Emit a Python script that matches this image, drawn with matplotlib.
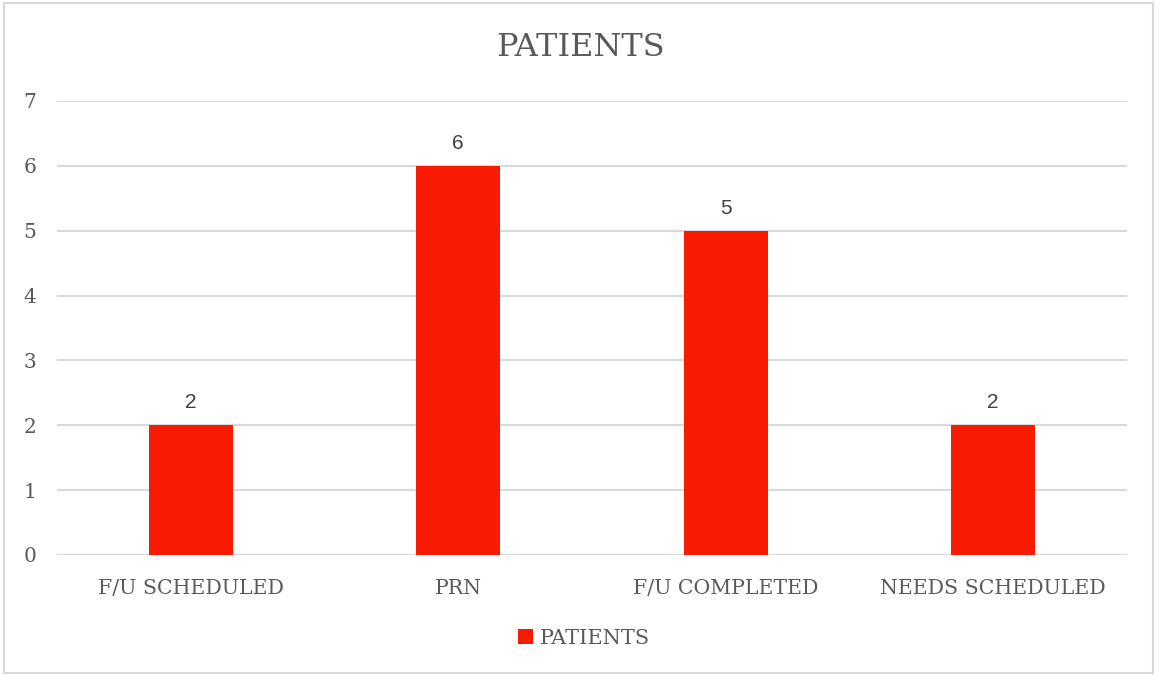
import matplotlib
matplotlib.use("Agg")
import matplotlib.pyplot as plt
from matplotlib.patches import Rectangle

categories = ["F/U SCHEDULED", "PRN", "F/U COMPLETED", "NEEDS SCHEDULED"]
patients = [2, 6, 5, 2]
yticks = [0, 1, 2, 3, 4, 5, 6, 7]

RED = "#F91A02"
TXT = "#595959"
GRID = "#D9D9D9"
SERIF = ["DejaVu Serif"]

fig = plt.figure(figsize=(11.56, 6.75), dpi=100)
ax = fig.add_axes([57 / 1156, 1 - 555 / 675, 1070 / 1156, 454 / 675])

x = list(range(len(categories)))
bars = ax.bar(x, patients, width=0.314, color=RED, zorder=3, label="PATIENTS")
for xi, v in zip(x, patients):
    ax.text(xi, v + 0.2, str(v), ha="center", va="bottom", fontsize=15,
            color="#404040", family="Liberation Sans")

ax.set_xlim(-0.5, 3.5)
ax.set_ylim(0, 7)
ax.set_yticks(yticks)
ax.set_yticklabels([str(t) for t in yticks], family=SERIF, fontsize=14.5, color=TXT)
ax.set_xticks(x)
ax.set_xticklabels(categories, family=SERIF, fontsize=14.8, color=TXT)
ax.tick_params(length=0)
ax.tick_params(axis="y", pad=15)
ax.tick_params(axis="x", pad=17)
ax.yaxis.grid(True, color=GRID, linewidth=1.5, zorder=0)
for s in ax.spines.values():
    s.set_visible(False)
ax.axhline(0, color=GRID, linewidth=1.5, zorder=2)

fig.text(0.502, 1 - 48 / 675, "PATIENTS", ha="center", va="center",
         fontsize=23, color=TXT, family=SERIF)

leg = fig.legend(handles=[bars], labels=["PATIENTS"], loc="center",
                 bbox_to_anchor=(0.505, 1 - 638 / 675), frameon=False,
                 prop={"family": SERIF, "size": 15}, handlelength=0.75,
                 handleheight=0.75, handletextpad=0.3)
for t in leg.get_texts():
    t.set_color(TXT)

fig.add_artist(Rectangle((4 / 1156, 2 / 675), 1149 / 1156, 670 / 675,
                         transform=fig.transFigure, fill=False,
                         edgecolor=GRID, linewidth=1.5))

fig.savefig("out.png", dpi=100)
